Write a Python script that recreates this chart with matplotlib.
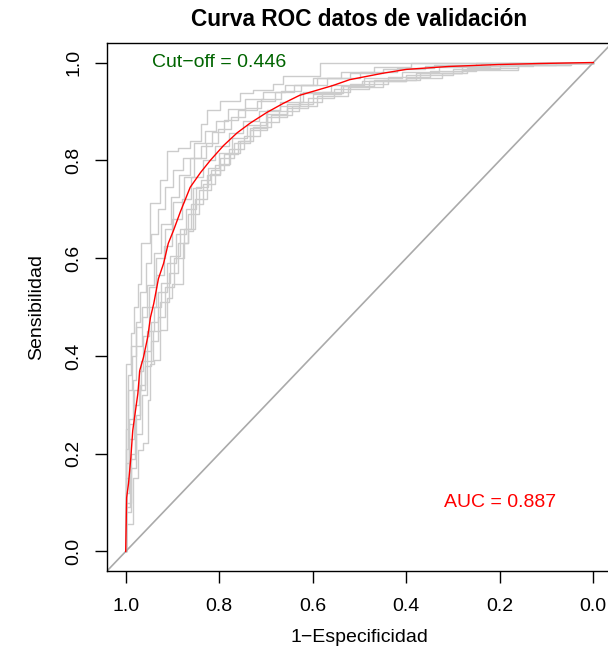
import matplotlib
matplotlib.use("Agg")
import matplotlib.pyplot as plt

plt.rcParams['font.family'] = ['Liberation Sans', 'DejaVu Sans']

# main ROC curve (specificity, sensitivity)
roc_spec = [1.0, 0.998, 0.994, 0.989, 0.985, 0.974, 0.970, 0.962, 0.953, 0.947,
            0.940, 0.930, 0.919, 0.909, 0.898, 0.883, 0.862, 0.840, 0.819, 0.791,
            0.762, 0.734, 0.698, 0.664, 0.628, 0.557, 0.521, 0.451, 0.400, 0.309,
            0.202, 0.117, 0.004, 0.0]
roc_sens = [0.0, 0.110, 0.139, 0.192, 0.247, 0.323, 0.370, 0.397, 0.438, 0.479,
            0.507, 0.558, 0.589, 0.630, 0.656, 0.695, 0.745, 0.775, 0.800, 0.830,
            0.856, 0.876, 0.898, 0.916, 0.933, 0.953, 0.965, 0.978, 0.986, 0.992,
            0.996, 0.998, 1.0, 1.0]

# gray curves (one per fold / resample)
g1_spec = [1.0, 1.0, 0.989, 0.983, 0.974, 0.968, 0.947, 0.926, 0.911, 0.889, 0.862,
           0.840, 0.826, 0.798, 0.755, 0.728, 0.685, 0.664, 0.585, 0.451, 0.0]
g1_sens = [0.0, 0.376, 0.384, 0.446, 0.499, 0.548, 0.630, 0.712, 0.759, 0.820, 0.826,
           0.840, 0.875, 0.902, 0.922, 0.937, 0.943, 0.957, 0.973, 1.0, 1.0]

g2_spec = [1.0, 0.996, 0.987, 0.979, 0.970, 0.957, 0.945, 0.930, 0.915, 0.898, 0.877,
           0.855, 0.830, 0.806, 0.781, 0.745, 0.706, 0.660, 0.600, 0.540, 0.470, 0.390,
           0.300, 0.0]
g2_sens = [0.0, 0.210, 0.330, 0.400, 0.470, 0.530, 0.590, 0.650, 0.700, 0.745, 0.780,
           0.805, 0.835, 0.860, 0.880, 0.905, 0.925, 0.940, 0.955, 0.968, 0.980, 0.990,
           1.0, 1.0]

g3_spec = [1.0, 0.994, 0.985, 0.977, 0.966, 0.955, 0.940, 0.925, 0.904, 0.885, 0.862,
           0.840, 0.815, 0.790, 0.760, 0.720, 0.680, 0.640, 0.590, 0.520, 0.450, 0.360,
           0.250, 0.150, 0.0]
g3_sens = [0.0, 0.150, 0.270, 0.350, 0.420, 0.480, 0.545, 0.610, 0.670, 0.725, 0.770,
           0.805, 0.830, 0.858, 0.882, 0.902, 0.922, 0.940, 0.955, 0.968, 0.978, 0.986,
           0.993, 1.0, 1.0]

g4_spec = [1.0, 0.992, 0.983, 0.972, 0.962, 0.950, 0.936, 0.919, 0.900, 0.880, 0.860,
           0.835, 0.810, 0.780, 0.750, 0.715, 0.670, 0.620, 0.560, 0.490, 0.410, 0.330,
           0.220, 0.100, 0.0]
g4_sens = [0.0, 0.120, 0.230, 0.300, 0.370, 0.440, 0.500, 0.565, 0.625, 0.680, 0.720,
           0.765, 0.800, 0.830, 0.855, 0.880, 0.900, 0.920, 0.940, 0.955, 0.968, 0.980,
           0.990, 0.997, 1.0]

g5_spec = [1.0, 0.990, 0.981, 0.970, 0.958, 0.945, 0.930, 0.912, 0.893, 0.872, 0.850,
           0.825, 0.800, 0.772, 0.740, 0.700, 0.655, 0.600, 0.540, 0.470, 0.380, 0.280,
           0.180, 0.0]
g5_sens = [0.0, 0.090, 0.190, 0.270, 0.340, 0.410, 0.470, 0.530, 0.590, 0.650, 0.700,
           0.745, 0.785, 0.815, 0.845, 0.872, 0.895, 0.915, 0.935, 0.952, 0.965, 0.978,
           0.992, 1.0]

g6_spec = [1.0, 0.996, 0.988, 0.978, 0.966, 0.951, 0.936, 0.917, 0.898, 0.876, 0.853,
           0.828, 0.803, 0.775, 0.745, 0.710, 0.668, 0.625, 0.570, 0.500, 0.420, 0.340,
           0.240, 0.120, 0.0]
g6_sens = [0.0, 0.250, 0.360, 0.420, 0.460, 0.500, 0.540, 0.600, 0.660, 0.715, 0.765,
           0.805, 0.835, 0.865, 0.888, 0.908, 0.925, 0.942, 0.955, 0.968, 0.980, 0.988,
           0.994, 0.998, 1.0]

g7_spec = [1.0, 0.988, 0.978, 0.966, 0.955, 0.942, 0.926, 0.908, 0.888, 0.866, 0.843,
           0.818, 0.790, 0.760, 0.728, 0.690, 0.645, 0.590, 0.525, 0.450, 0.370, 0.270,
           0.160, 0.050, 0.0]
g7_sens = [0.0, 0.080, 0.170, 0.240, 0.320, 0.390, 0.450, 0.510, 0.570, 0.630, 0.690,
           0.740, 0.780, 0.812, 0.840, 0.868, 0.892, 0.912, 0.932, 0.950, 0.965, 0.978,
           0.988, 0.996, 1.0]

g8_spec = [1.0, 0.993, 0.982, 0.968, 0.954, 0.940, 0.924, 0.905, 0.884, 0.860, 0.835,
           0.808, 0.780, 0.748, 0.712, 0.672, 0.630, 0.580, 0.520, 0.440, 0.350, 0.250,
           0.130, 0.0]
g8_sens = [0.0, 0.180, 0.260, 0.330, 0.390, 0.450, 0.500, 0.550, 0.605, 0.660, 0.710,
           0.752, 0.790, 0.823, 0.850, 0.878, 0.900, 0.920, 0.940, 0.957, 0.970, 0.983,
           0.993, 1.0]

g9_spec = [1.0, 0.989, 0.979, 0.969, 0.958, 0.946, 0.932, 0.915, 0.896, 0.875, 0.852,
           0.826, 0.798, 0.768, 0.735, 0.698, 0.655, 0.610, 0.555, 0.480, 0.400, 0.300,
           0.200, 0.080, 0.0]
g9_sens = [0.0, 0.100, 0.200, 0.280, 0.330, 0.380, 0.430, 0.480, 0.540, 0.600, 0.660,
           0.720, 0.770, 0.805, 0.835, 0.862, 0.888, 0.908, 0.928, 0.946, 0.962, 0.975,
           0.986, 0.995, 1.0]

g10_spec = [1.0, 0.985, 0.974, 0.964, 0.953, 0.947, 0.940, 0.926, 0.911, 0.900, 0.877,
            0.866, 0.857, 0.840, 0.819, 0.798, 0.777, 0.755, 0.734, 0.698, 0.670, 0.628,
            0.536, 0.494, 0.400, 0.323, 0.281, 0.160, 0.047, 0.0]
g10_sens = [0.0, 0.057, 0.151, 0.207, 0.221, 0.309, 0.384, 0.391, 0.452, 0.519, 0.548,
            0.630, 0.656, 0.744, 0.759, 0.773, 0.793, 0.814, 0.840, 0.867, 0.902, 0.912,
            0.937, 0.953, 0.963, 0.969, 0.978, 0.984, 0.994, 1.0]

gray_curves = [(g1_spec, g1_sens), (g2_spec, g2_sens), (g3_spec, g3_sens),
               (g4_spec, g4_sens), (g5_spec, g5_sens), (g6_spec, g6_sens),
               (g7_spec, g7_sens), (g8_spec, g8_sens), (g9_spec, g9_sens),
               (g10_spec, g10_sens)]

ticks = [1.0, 0.8, 0.6, 0.4, 0.2, 0.0]
tick_labels = ['1.0', '0.8', '0.6', '0.4', '0.2', '0.0']

cutoff_txt = 'Cut\u2212off = 0.446'
auc_txt = 'AUC = 0.887'

fig = plt.figure(figsize=(6.08, 6.53), dpi=100)
W, H = 608, 653
ax = fig.add_axes([107 / W, 1 - 571 / H, (612 - 107) / W, (571 - 43) / H])

for sp, se in gray_curves:
    ax.plot(sp, se, color='#cccccc', lw=1.0, drawstyle='steps-pre')

# chance line across the whole box
ax.plot([1.1, -0.1], [-0.1, 1.1], color='#aaaaaa', lw=1.2)
ax.plot(roc_spec, roc_sens, color='red', lw=1.0)

ax.set_xlim(1.04, -0.04)
ax.set_ylim(-0.04, 1.04)
ax.set_xticks(ticks)
ax.set_xticklabels(tick_labels)
ax.set_yticks(ticks)
ax.set_yticklabels(tick_labels, rotation=90, va='center')
ax.tick_params(direction='out', length=8.6, width=1.0, labelsize=14)
ax.tick_params(axis='x', pad=11)
ax.tick_params(axis='y', pad=9)
for s in ax.spines.values():
    s.set_linewidth(1.0)

ax.text(0.8, 1.0, cutoff_txt, color='#006400', fontsize=14, ha='center', va='center')
ax.text(0.2, 0.1, auc_txt, color='red', fontsize=14, ha='center', va='center')

fig.text(359.5 / W, 1 - 19 / H, 'Curva ROC datos de validación', fontsize=16.3,
         fontweight='bold', ha='center', va='center')
fig.text(359.5 / W, 1 - 638 / H, '1\u2212Especificidad', fontsize=14,
         ha='center', va='center')
fig.text(37 / W, 1 - 307 / H, 'Sensibilidad', fontsize=14, rotation=90,
         ha='center', va='center')

fig.savefig('out.png', dpi=100)
